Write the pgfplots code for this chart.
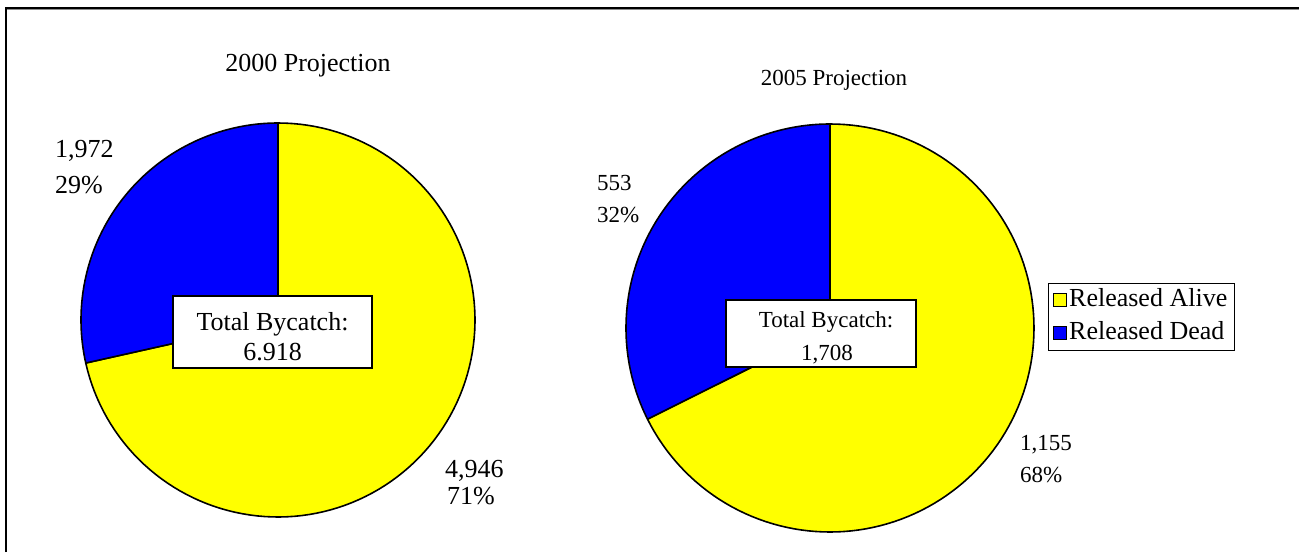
\documentclass[border=0pt]{standalone}
\usepackage{pgfplots}
\pgfplotsset{compat=1.18}
\usepackage{pgfplotstable}
\usepackage{fontspec}
\setmainfont{Liberation Serif}

\definecolor{alive}{RGB}{255,255,0}
\definecolor{dead}{RGB}{0,0,255}

% Bycatch counts per projection year
\pgfplotstableread{
status count
Alive 4946
Dead 1972
}\bycatchA
\pgfplotstableread{
status count
Alive 1155
Dead 553
}\bycatchB

\newcommand\getcount[3]{\pgfplotstablegetelem{#1}{count}\of#2\edef#3{\pgfplotsretval}}

\pgfplotsset{
  pie/.style={hide axis, clip=false, anchor=center,
    xmin=-1, xmax=1, ymin=-1, ymax=1},
  slice/.style={draw=black, line width=1.6pt, line join=round,
    samples=120, variable=\t, forget plot},
}

\newcommand\bigfont{\fontsize{26}{30}\selectfont}
\newcommand\smallfont{\fontsize{23}{27}\selectfont}

\begin{document}
\begin{tikzpicture}
\path[use as bounding box] (0pt,0pt) rectangle (1299pt,-552pt);

\getcount{0}{\bycatchA}\aliveA
\getcount{1}{\bycatchA}\deadA
\getcount{0}{\bycatchB}\aliveB
\getcount{1}{\bycatchB}\deadB
\pgfmathsetmacro\angA{360*(\deadA/(\aliveA+\deadA))}
\pgfmathsetmacro\angB{360*(\deadB/(\aliveB+\deadB))}

% frame
\draw[black!45, line width=1pt] (6.5pt,-9.6pt) -- (1299pt,-9.6pt);
\draw[line width=2pt] (5.5pt,-552pt) -- (5.5pt,-7.8pt) -- (1299pt,-7.8pt);

% 2000 projection
\begin{axis}[pie, x=197pt, y=197pt, at={(278pt,-320pt)}]
  \addplot[slice, fill=alive, domain=90+\angA:450] ({cos(\t)},{sin(\t)}) -- (axis cs:0,0) -- cycle;
  \addplot[slice, fill=dead, domain=90:90+\angA] ({cos(\t)},{sin(\t)}) -- (axis cs:0,0) -- cycle;
\end{axis}

% 2005 projection
\begin{axis}[pie, x=204pt, y=204pt, at={(830pt,-328pt)},
  legend image code/.code={\draw[#1, draw=black, line width=0.8pt] (0pt,-6.5pt) rectangle (13pt,6.5pt);},
  legend style={at={(1.034,0.528)}, anchor=west, draw=black, line width=1pt,
    font=\bigfont, inner xsep=5pt, inner ysep=0.5pt, row sep=0pt,
    /tikz/column sep=0pt,
    nodes={inner xsep=2pt, inner ysep=5pt, text height=18pt, text depth=5pt}},
  legend cell align=left]
  \addplot[slice, fill=alive, domain=90+\angB:450] ({cos(\t)},{sin(\t)}) -- (axis cs:0,0) -- cycle;
  \addplot[slice, fill=dead, domain=90:90+\angB] ({cos(\t)},{sin(\t)}) -- (axis cs:0,0) -- cycle;
  \addlegendimage{fill=alive}
  \addlegendentry{Released Alive}
  \addlegendimage{fill=dead}
  \addlegendentry{Released Dead}
\end{axis}

% titles
\node[font=\bigfont, anchor=base, inner sep=0pt] at (308pt,-71pt) {2000 Projection};
\node[font=\smallfont, anchor=base, inner sep=0pt] at (834pt,-85pt) {2005 Projection};

% slice labels
\node[font=\bigfont, anchor=base west, inner sep=0pt] at (55pt,-157pt) {1,972};
\node[font=\bigfont, anchor=base west, inner sep=0pt] at (55pt,-193pt) {29\%};
\node[font=\bigfont, anchor=base west, inner sep=0pt] at (445pt,-477pt) {4,946};
\node[font=\bigfont, anchor=base west, inner sep=0pt] at (447pt,-504pt) {71\%};
\node[font=\smallfont, anchor=base west, inner sep=0pt] at (597pt,-190pt) {553};
\node[font=\smallfont, anchor=base west, inner sep=0pt] at (597pt,-222pt) {32\%};
\node[font=\smallfont, anchor=base west, inner sep=0pt] at (1020pt,-450pt) {1,155};
\node[font=\smallfont, anchor=base west, inner sep=0pt] at (1020pt,-482pt) {68\%};

% total boxes
\draw[fill=white, line width=1.6pt] (173pt,-296pt) rectangle (372pt,-368pt);
\node[font=\bigfont, anchor=base, inner sep=0pt] at (272.5pt,-330pt) {Total Bycatch:};
\node[font=\bigfont, anchor=base, inner sep=0pt] at (272.5pt,-360pt) {6.918};
\draw[fill=white, line width=1.6pt] (726pt,-300pt) rectangle (916pt,-367pt);
\node[font=\smallfont, anchor=base, inner sep=0pt] at (826pt,-327pt) {Total Bycatch:};
\node[font=\smallfont, anchor=base, inner sep=0pt] at (827pt,-360pt) {1,708};
\end{tikzpicture}
\end{document}
